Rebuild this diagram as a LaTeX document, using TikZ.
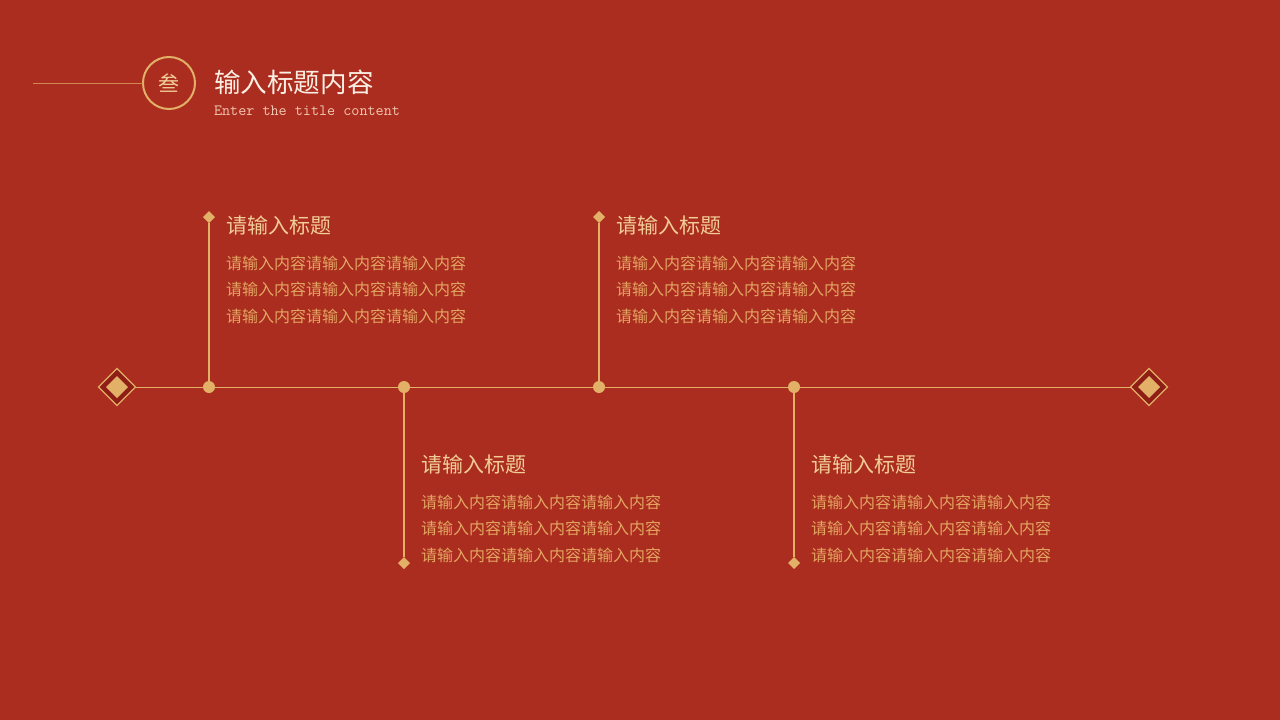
\documentclass[tikz,border=0pt]{standalone}
\usepackage{fontspec}
\setmainfont{Liberation Serif}
\newfontfamily\cjk{Noto Sans CJK SC}
\usetikzlibrary{shapes.geometric,positioning}
\definecolor{bgRed}{HTML}{AB2D1F}
\definecolor{darkRed}{HTML}{8E1E16}
\definecolor{gold}{HTML}{E2B067}
\definecolor{bodyGold}{HTML}{E3A561}
\definecolor{headGold}{HTML}{F2CC96}
\definecolor{titleWhite}{HTML}{FBEEE2}
\definecolor{subPink}{HTML}{F1C6B0}

\begin{document}
\begin{tikzpicture}[
	x=1pt, y=-1pt,
	node distance=10pt and 11pt
	]
\tikzset{
	base/.style = { inner sep=0pt, outer sep=0pt },
	heading/.style = { base, anchor=west, text=headGold, font=\cjk\fontsize{21}{25}\selectfont },
	body/.style = { base, anchor=west, align=left, text=bodyGold, font=\cjk\fontsize{16}{26.5}\selectfont },
	stem/.style = { draw=gold, line width=1.2pt },
	axis/.style = { draw=gold, line width=1pt },
	dot/.style = { base, circle, fill=gold, minimum size=12pt },
	tip/.style = { base, diamond, fill=gold, minimum size=12pt },
	endOuter/.style = { base, diamond, draw=gold, fill=darkRed, line width=1.2pt, minimum size=37pt },
	endInner/.style = { base, diamond, fill=gold, minimum size=22pt }
}
	% background
	\fill [bgRed] (0,0) rectangle (1280,720);
	\useasboundingbox (0,0) rectangle (1280,720);

	% header
	\node (numCircle) [base, circle, draw=gold, line width=2pt, minimum size=52pt, text=headGold,
		font=\cjk\fontsize{21}{21}\selectfont] at (169,83) {叁};
	\coordinate (headLineStart) at (33,83);
	\draw [draw=gold!70!bgRed, line width=1pt] (headLineStart) -- (numCircle);
	\node (pageTitle) [base, anchor=west, text=titleWhite, font=\cjk\fontsize{26.6}{30}\selectfont] at (214,82.5) {输入标题内容};
	\node (pageSub) [base, anchor=west, text=subPink, font=\ttfamily\fontsize{15.7}{17}\selectfont] at (214,111) {Enter the title content};

	% timeline
	\node (endL) [endOuter] at (117,387) {};
	\node (endLIn) [endInner] at (endL) {};
	\node (endR) [endOuter] at (1149,387) {};
	\node (endRIn) [endInner] at (endR) {};
	\draw [axis] (endL) -- (endR);

	\node (dotA) [dot] at (209,387) {};
	\node (dotB) [dot] at (404,387) {};
	\node (dotC) [dot] at (599,387) {};
	\node (dotD) [dot] at (794,387) {};

	\node (tipA) [tip] at (209,217) {};
	\node (tipB) [tip] at (404,563) {};
	\node (tipC) [tip] at (599,217) {};
	\node (tipD) [tip] at (794,563) {};

	\draw [stem] (tipA) -- (dotA);
	\draw [stem] (dotB) -- (tipB);
	\draw [stem] (tipC) -- (dotC);
	\draw [stem] (dotD) -- (tipD);

	% upper texts
	\node (headA) [heading, right=of tipA, yshift=-8pt] {请输入标题};
	\node (bodyA) [body] at (226,289.5) {请输入内容请输入内容请输入内容\\请输入内容请输入内容请输入内容\\请输入内容请输入内容请输入内容};
	\node (headC) [heading, right=of tipC, yshift=-8pt] {请输入标题};
	\node (bodyC) [body] at (616,289.5) {请输入内容请输入内容请输入内容\\请输入内容请输入内容请输入内容\\请输入内容请输入内容请输入内容};

	% lower texts
	\node (headB) [heading] at (421,464) {请输入标题};
	\node (bodyB) [body] at (421,528.5) {请输入内容请输入内容请输入内容\\请输入内容请输入内容请输入内容\\请输入内容请输入内容请输入内容};
	\node (headD) [heading] at (811,464) {请输入标题};
	\node (bodyD) [body] at (811,528.5) {请输入内容请输入内容请输入内容\\请输入内容请输入内容请输入内容\\请输入内容请输入内容请输入内容};

\end{tikzpicture}
\end{document}
